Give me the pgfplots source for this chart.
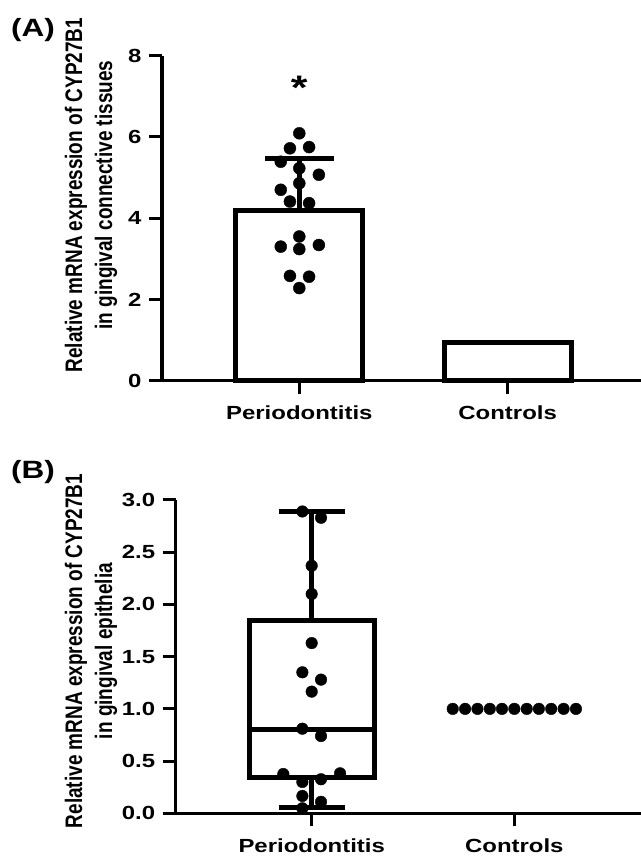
\documentclass[border=0pt]{standalone}
\usepackage{pgfplots}
\pgfplotsset{compat=1.18}
\usepgfplotslibrary{statistics}
\usepackage{fontspec}
\setmainfont{Liberation Sans}[FakeStretch=1.26]
\newfontfamily\vfont{Liberation Sans}[FakeStretch=0.794]
\newcommand\hf{\fontsize{19bp}{22bp}\selectfont\bfseries}
\newcommand\vf{\vfont\fontsize{23.9bp}{30bp}\selectfont\bfseries}

\pgfplotstableread{
x y
0 6.09
-0.045 5.72
0.047 5.75
-0.089 5.39
0 5.23
0.094 5.07
0 4.86
-0.089 4.70
-0.045 4.41
0.047 4.37
0 3.55
-0.089 3.30
0.094 3.34
0 3.24
-0.045 2.58
0.047 2.56
0 2.28
}\dotsA

\pgfplotstableread{
x y
-0.046 2.89
0.046 2.83
0 2.37
0 2.10
0 1.63
-0.046 1.35
0.046 1.28
0 1.165
-0.046 0.81
0.046 0.74
-0.140 0.376
0.140 0.383
-0.046 0.30
0.046 0.326
-0.046 0.166
0.046 0.11
-0.046 0.048
}\dotsBP

\pgfplotstableread{
x y
0.696 1.0
0.757 1.0
0.818 1.0
0.879 1.0
0.939 1.0
1.000 1.0
1.061 1.0
1.121 1.0
1.182 1.0
1.243 1.0
1.304 1.0
}\dotsBC

\pgfplotsset{
  common/.style={
    scale only axis,
    axis lines=left,
    axis line style={-, line width=3.5bp},
    every tick/.style={black, line width=3bp},
    major tick length=13bp,
    tick align=outside,
    clip=false,
    xtick={0,1},
    xticklabels={Periodontitis,Controls},
    ticklabel style={font=\hf},
    xticklabel style={yshift=-9bp},
    yticklabel style={xshift=-4bp},
    /pgf/number format/assume math mode=true,
  }
}

\begin{document}
\begin{tikzpicture}
\useasboundingbox (0,0) rectangle (641bp,856bp);

\node[font=\fontsize{25bp}{28bp}\selectfont\bfseries] at (33bp,826bp) {(A)};
\node[font=\fontsize{25bp}{28bp}\selectfont\bfseries] at (33bp,383.5bp) {(B)};

% Panel A
\begin{axis}[common,
  at={(162bp,475.3bp)}, anchor=south west,
  width=479bp, height=325bp,
  xmin=-0.659, xmax=1.64, ymin=0, ymax=8,
  ytick={0,2,4,6,8},
  every axis y label/.style={at={(axis description cs:-0.148,0.571)}, rotate=90, anchor=center, font=\vf, align=center},
  ylabel={Relative mRNA expression of CYP27B1\\in gingival connective tissues},
]
\addplot[ybar, bar shift=0, bar width=0.61, draw=black, line width=5bp, fill=white] coordinates {(0,4.20) (1,0.94)};
\addplot[draw=none, mark=none, error bars/.cd, y dir=plus, y explicit,
  error bar style={line width=5bp, black},
  error mark options={rotate=90, mark size=34.5bp, line width=5bp, black}]
  coordinates {(0,4.26) +- (0,1.22)};
\addplot[only marks, mark=*, mark size=6bp, mark options={fill=black, draw=none}] table[x=x,y=y] {\dotsA};
\node[font=\fontsize{34bp}{36bp}\selectfont\bfseries] at (axis cs:0,7.2) {*};
\end{axis}

% Panel B
\begin{axis}[common,
  at={(175.7bp,42.7bp)}, anchor=south west,
  width=465.3bp, height=313.3bp,
  xmin=-0.671, xmax=1.625, ymin=0, ymax=3,
  ytick={0,0.5,1,1.5,2,2.5,3},
  yticklabel style={/pgf/number format/.cd, fixed, fixed zerofill, precision=1},
  every axis y label/.style={at={(axis description cs:-0.182,0.518)}, rotate=90, anchor=center, font=\vf, align=center},
  ylabel={Relative mRNA expression of CYP27B1\\in gingival epithelia},
]
\addplot[black, line width=5bp, solid, fill=white, mark=none,
  boxplot/draw direction=y,
  boxplot prepared={lower whisker=0.051, lower quartile=0.343, median=0.807,
    upper quartile=1.845, upper whisker=2.893, draw position=0,
    box extend=0.617, whisker extend=0.326}] coordinates {};
\addplot[only marks, mark=*, mark size=5.8bp, mark options={fill=black, draw=none}] table[x=x,y=y] {\dotsBP};
\addplot[only marks, mark=*, mark size=5.8bp, mark options={fill=black, draw=none}] table[x=x,y=y] {\dotsBC};
\end{axis}
\end{tikzpicture}
\end{document}
